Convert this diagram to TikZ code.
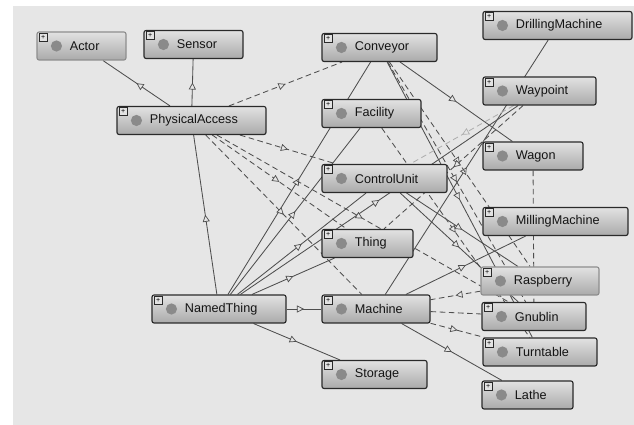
\documentclass[tikz,border=0pt]{standalone}
\usepackage{fontspec}
\setmainfont{Liberation Sans}
\usetikzlibrary{arrows.meta, decorations.markings}

\definecolor{bggray}{HTML}{E6E6E6}
\definecolor{boxtop}{HTML}{E2E2E2}
\definecolor{boxbot}{HTML}{AAAAAA}
\definecolor{boxedge}{HTML}{2A2A2A}
\definecolor{softedge}{HTML}{8E8E8E}
\definecolor{dotgray}{HTML}{8A8A8A}
\definecolor{edgegray}{HTML}{4E4E4E}
\definecolor{faintgray}{HTML}{AEAEAE}
\definecolor{textgray}{HTML}{141414}

\pgfdeclarelayer{back}
\pgfdeclarelayer{links}
\pgfsetlayers{back,links,main}

\tikzstyle{cls} = [rectangle, rounded corners=1.5pt, draw=boxedge, line width=0.8pt, top color=boxtop, bottom color=boxbot, minimum height=0.7cm, inner sep=0pt]
\tikzstyle{clstext} = [anchor=west, inner sep=0pt, text=textgray, font=\fontsize{9}{10}\selectfont]
\tikzstyle{plus} = [rectangle, draw=boxedge, fill=boxtop, line width=0.4pt, minimum size=0.19cm, inner sep=0pt, font=\fontsize{5}{5}\selectfont]
\tikzstyle{isa} = [draw=edgegray, line width=0.6pt, postaction={decorate}, decoration={markings, mark=at position 0.5 with {\arrow{Triangle[length=5pt, width=5pt, fill=bggray, line width=0.5pt]}}}]
\tikzstyle{rel} = [isa, dash pattern=on 4pt off 2.5pt]
\tikzstyle{relplain} = [draw=edgegray, line width=0.6pt, dash pattern=on 4pt off 2.5pt]
\tikzstyle{faint} = [draw=faintgray]

% class box: name, centre x, centre y, width (px), label
\newcommand{\ontoclass}[6][]{%
  \node[cls, #1, minimum width=#5*0.025cm] (#2) at (#3,#4) {};
  \node[clstext] (#2-txt) at ([xshift=0.83cm]#2.west) {#6};
  \node[plus] (#2-plus) at ([xshift=0.17cm,yshift=-0.14cm]#2.north west) {+};
  \fill[dotgray] ([xshift=0.5cm]#2.west) circle (0.14cm);
}

\begin{document}
\begin{tikzpicture}[x=0.025cm, y=-0.025cm]
\useasboundingbox (0,0) rectangle (634,425);
\begin{pgfonlayer}{back}
\fill[bggray] (13,6) rectangle (634,425);
\end{pgfonlayer}

\ontoclass[draw=softedge]{actor}{81.5}{46}{89}{Actor}
\ontoclass{sensor}{193.5}{44.5}{99}{Sensor}
\ontoclass{pa}{191.5}{120.5}{149}{PhysicalAccess}
\ontoclass{named}{219}{309}{134}{NamedThing}

\ontoclass{conveyor}{379.5}{47.5}{115}{Conveyor}
\ontoclass{facility}{371.5}{113.5}{99}{Facility}
\ontoclass{control}{384.5}{178.5}{125}{ControlUnit}
\ontoclass{thing}{367.5}{243.5}{91}{Thing}
\ontoclass{machine}{376}{309}{108}{Machine}
\ontoclass{storage}{374.5}{374.5}{105}{Storage}

\ontoclass{drilling}{557.5}{25.5}{149}{DrillingMachine}
\ontoclass{waypoint}{539.5}{91}{113}{Waypoint}
\ontoclass{wagon}{533}{156}{100}{Wagon}
\ontoclass{milling}{555.5}{221.5}{145}{MillingMachine}
\ontoclass[draw=softedge]{raspberry}{540}{281}{118}{Raspberry}
\ontoclass{gnublin}{534}{316.5}{104}{Gnublin}
\ontoclass{turntable}{540}{352}{114}{Turntable}
\ontoclass{lathe}{527.5}{395}{91}{Lathe}

\begin{pgfonlayer}{links}
% subclass links
\draw[isa] (pa) -- (actor);
\draw[isa] (pa) -- (sensor);
\draw[isa] (named) -- (pa);
\draw[isa] (named) -- (machine);
\draw[isa] (named) -- (storage);
\draw[isa] (named) -- (conveyor);
\draw[isa] (named) -- (facility);
\draw[isa] (named) -- (control);
\draw[isa] (named) -- (thing);
\draw[isa] (named) -- (waypoint);
\draw[isa] (conveyor) -- (wagon);
\draw[isa] (conveyor) -- (turntable);
\draw[isa] (machine) -- (drilling);
\draw[isa] (machine) -- (milling);
\draw[isa] (machine) -- (lathe);
\draw[isa] (control) -- (raspberry);
\draw[isa] (control) -- (gnublin);

% property links
\draw[rel] (pa) -- (conveyor);
\draw[rel] (pa) -- (control);
\draw[rel] (pa) -- (thing);
\draw[rel] (pa) -- (machine);
\draw[rel] (pa) -- (gnublin);
\draw[rel] (conveyor) -- (raspberry);
\draw[rel] (conveyor) -- (gnublin);
\draw[rel] (facility) -- (turntable);
\draw[rel] (waypoint) -- (thing);
\draw[rel] (raspberry) -- (machine);
\draw[relplain] (machine) -- (gnublin);
\draw[rel] (machine) -- (turntable);
\draw[relplain] (wagon) -- (gnublin);
\draw[rel, faint] (waypoint) -- (control);
\end{pgfonlayer}

\end{tikzpicture}
\end{document}
